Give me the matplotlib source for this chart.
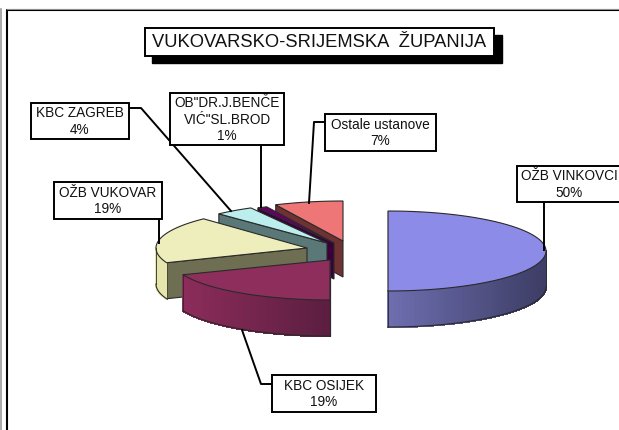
import numpy as np
import matplotlib
matplotlib.use("Agg")
import matplotlib.pyplot as plt
from matplotlib.patches import Polygon, Rectangle
from matplotlib.colors import to_rgb

plt.rcParams['font.family'] = ['Liberation Sans', 'DejaVu Sans']

title = "VUKOVARSKO-SRIJEMSKA  ŽUPANIJA"
names = ["OŽB VINKOVCI", "KBC OSIJEK", "OŽB VUKOVAR", "KBC ZAGREB", "OB\"DR.J.BENČE\nVIĆ\"SL.BROD", "Ostale ustanove"]
values = [50, 19, 19, 4, 1, 7]

# exploded slice tips, pixels
tip_x = [388, 330, 307, 327, 334, 343]
tip_y = [251, 260, 248, 243, 243, 241]
rad_x = [158, 158, 151, 158, 158, 158]
top_col = ['#8c8ce8', '#8e2e5c', '#eeeebc', '#bceeee', '#660066', '#ee7676']
rim_left = ['#6e6eb0', '#8c2c5a', '#e6e6ac', '#5a7878', '#3a003a', '#6e3232']
rim_right = ['#3c3c64', '#5a1e40', '#e6e6ac', '#5a7878', '#3a003a', '#6e3232']
wall_col = ['#3c3c64', '#5a1e40', '#6e6e52', '#5a7878', '#3a003a', '#6e3232']

# label boxes: left, top, right, bottom
box_l = [517, 272, 54, 31, 170, 325]
box_t = [166, 375, 182, 103, 93, 114]
box_r = [640, 376, 162, 129, 284, 436]
box_b = [202, 412, 219, 139, 145, 151]

leader_x = [[544, 544], [272, 261, 242], [159, 159], [129, 141, 231], [261, 261], [325, 314, 309]]
leader_y = [[202, 250], [384, 384, 330], [219, 243], [108, 108, 211], [145, 207], [122, 122, 203]]

B, DEPTH = 40, 36
EDGE = '#2a2a2a'

fig = plt.figure(figsize=(6.19, 4.30), dpi=100)
ax = fig.add_axes([0, 0, 1, 1])
ax.set_xlim(0, 619)
ax.set_ylim(430, 0)
ax.axis('off')

# frame, runs off the right and bottom
ax.plot([0.5, 0.5], [9, 430], color='#999999', lw=1.2)
ax.plot([7, 7, 619], [430, 10, 10], color='black', lw=1.5)
ax.plot([7, 619], [9, 9], color='#aaaaaa', lw=0.6)


def ell(i, th):
    return tip_x[i] + rad_x[i] * np.sin(th), tip_y[i] - B * np.cos(th)


def draw_slice(i, t0, t1):
    # radial wall on the start side
    x0, y0 = ell(i, t0)
    wall = [(tip_x[i], tip_y[i]), (x0, y0), (x0, y0 + DEPTH), (tip_x[i], tip_y[i] + DEPTH)]
    ax.add_patch(Polygon(wall, fc=wall_col[i], ec=EDGE, lw=0.8))

    # outer rim, only the part that faces front
    a, b = max(t0, np.pi / 2), min(t1, 3 * np.pi / 2)
    if b > a:
        edges = np.linspace(a, b, 60)
        c0, c1 = np.array(to_rgb(rim_left[i])), np.array(to_rgb(rim_right[i]))
        xs = ell(i, edges)[0]
        for k in range(len(edges) - 1):
            xa, ya = ell(i, edges[k])
            xb, yb = ell(i, edges[k + 1])
            f = (0.5 * (xa + xb) - xs.min()) / max(xs.max() - xs.min(), 1)
            col = c0 + (c1 - c0) * f
            ax.add_patch(Polygon([(xa, ya), (xb, yb), (xb, yb + DEPTH), (xa, ya + DEPTH)],
                                 fc=col, ec=col, lw=1.0, antialiased=False))
        xe, ye = ell(i, edges)
        ax.plot(xe, ye + DEPTH, color=EDGE, lw=0.8)
        ax.plot([xe[0], xe[0]], [ye[0], ye[0] + DEPTH], color=EDGE, lw=0.6)
        ax.plot([xe[-1], xe[-1]], [ye[-1], ye[-1] + DEPTH], color=EDGE, lw=0.6)

    # top face
    th = np.linspace(t0, t1, 60)
    xt, yt = ell(i, th)
    pts = [(tip_x[i], tip_y[i])] + list(zip(xt, yt))
    ax.add_patch(Polygon(pts, fc=top_col[i], ec=EDGE, lw=0.8))


angles = np.concatenate([[0], np.cumsum(values)]) / sum(values) * 2 * np.pi
for i in [5, 4, 3, 2, 1, 0]:
    draw_slice(i, angles[i], angles[i + 1])

# leaders and label boxes
for i in range(len(names)):
    ax.plot(leader_x[i], leader_y[i], color='black', lw=1.4)
for i in range(len(names)):
    ax.add_patch(Rectangle((box_l[i], box_t[i]), box_r[i] - box_l[i], box_b[i] - box_t[i],
                           fc='white', ec='black', lw=1.4, zorder=4))
    right = min(box_r[i], 619)
    cx = (box_l[i] + right + (2 if right == 619 else 0)) / 2
    ax.text(cx, (box_t[i] + box_b[i]) / 2 + 0.5, f"{names[i]}\n{values[i]}%",
            ha='center', va='center', fontsize=9.8, color='#111111', zorder=5, linespacing=1.2)

# title with hard shadow
ax.add_patch(Rectangle((152, 35), 350, 28, fc='black', ec='black', lw=1, zorder=4))
ax.add_patch(Rectangle((145, 28), 349, 28, fc='white', ec='black', lw=1.4, zorder=5))
ax.text(319.5, 42.5, title, ha='center', va='center', fontsize=13.2, color='#111111', zorder=6)

fig.savefig("out.png", dpi=100)
